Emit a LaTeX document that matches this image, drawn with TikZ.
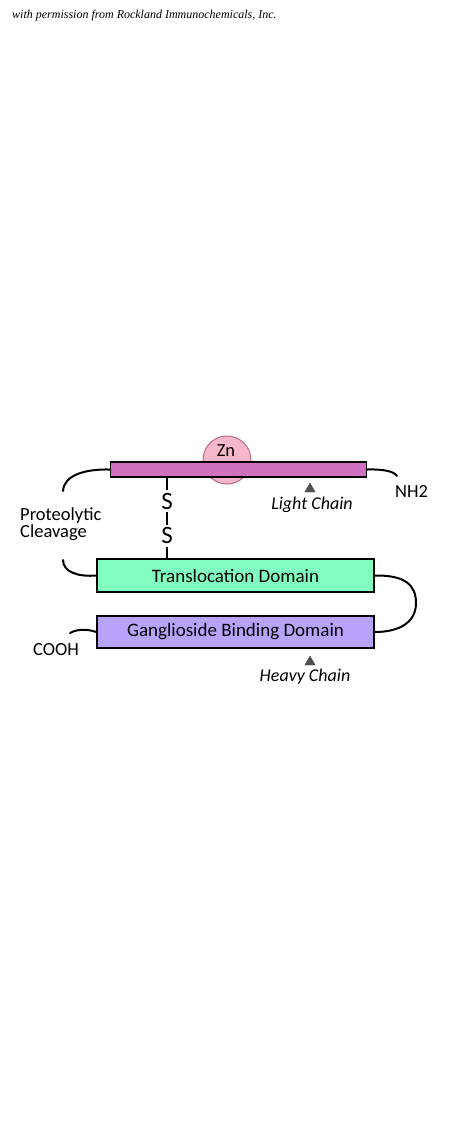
\documentclass[tikz,border=0pt]{standalone}
\usepackage{fontspec}
\usetikzlibrary{shapes.geometric}
\setmainfont{Carlito}
\newfontfamily\credfont{Liberation Serif}
\definecolor{lightbar}{HTML}{D070C0}
\definecolor{znfill}{HTML}{F5B7C9}
\definecolor{znline}{HTML}{B86C80}
\definecolor{transfill}{HTML}{80FFC0}
\definecolor{gangfill}{HTML}{B9A2FA}
\definecolor{tri}{HTML}{505050}
\tikzset{
  domainbox/.style={draw=black, line width=1.3pt, inner sep=0pt, font=\fontsize{19}{22}\selectfont},
  chainline/.style={line width=2pt, line cap=round},
  lbl/.style={inner sep=0pt, font=\fontsize{18.5}{17}\selectfont},
  chlbl/.style={inner sep=0pt, font=\fontsize{18}{21}\selectfont\itshape},
  sslbl/.style={inner sep=0pt, font=\fontsize{25}{27}\selectfont},
  marker/.style={fill=tri, draw=tri, line width=0.4pt},
  ssline/.style={line width=1.8pt},
}
\begin{document}
\begin{tikzpicture}[x=1pt,y=-1pt]
\useasboundingbox (0,0) rectangle (450,1125);
% credit
\node[anchor=west, inner sep=0pt, font=\credfont\fontsize{12}{14}\selectfont\itshape] (credit) at (12,16) {with permission from Rockland Immunochemicals, Inc.};
% Zn
\node[circle, draw=znline, fill=znfill, line width=1pt, minimum size=48pt, inner sep=0pt] (zn) at (227,460) {};
\node[inner sep=0pt, font=\fontsize{18.5}{20}\selectfont] (zntext) at (226,451) {Zn};
% light chain bar
\node[draw=black, line width=1.3pt, fill=lightbar, minimum width=256pt, minimum height=15pt, inner sep=0pt] (light) at (238.5,469.5) {};
% translocation
\node[domainbox, fill=transfill, minimum width=277pt, minimum height=33pt] (trans) at (235.5,575.5) {Translocation Domain};
\node[domainbox, fill=gangfill, minimum width=277pt, minimum height=32pt] (gang) at (235.5,632) {Ganglioside Binding Domain};
% curves
\coordinate (lcEnd) at (63,491);
\coordinate (pcStart) at (63,560);
\coordinate (nhEnd) at (397,476);
\coordinate (coEnd) at (70,633);
\draw[chainline] (light.west) .. controls (85,469) and (64,475) .. (lcEnd);
\draw[chainline] (light.east) .. controls (382,469) and (394,471) .. (nhEnd);
\draw[chainline] (pcStart) .. controls (63,572) and (78,577) .. (trans.west);
\draw[chainline] (trans.east) .. controls (405,575) and (416,585) .. (416,603) .. controls (416,622) and (400,632) .. (gang.east);
\draw[chainline] (gang.west) .. controls (85,628) and (75,630) .. (coEnd);
% S-S
\node[sslbl] (s1) at (167,501) {S};
\node[sslbl] (s2) at (167,535.5) {S};
\draw[ssline] (light.south -| s1) -- ([yshift=3pt]s1.north);
\draw[ssline] ([yshift=-3pt]s1.south) -- ([yshift=2pt]s2.north);
\draw[ssline] ([yshift=-3pt]s2.south) -- (trans.north -| s2);
% labels
\node[lbl, anchor=west, align=left] (prot) at (20,524.5) {Proteolytic\\Cleavage};
\node[lbl, anchor=west] (nh2) at (395,491) {NH2};
\node[lbl, anchor=west] (cooh) at (33,650) {COOH};
\node[marker, isosceles triangle, shape border rotate=90, isosceles triangle apex angle=60, minimum size=9pt, inner sep=0pt] (lt) at (310,489) {};
\node[chlbl] (lc) at (312,505) {Light Chain};
\node[marker, isosceles triangle, shape border rotate=90, isosceles triangle apex angle=60, minimum size=9pt, inner sep=0pt] (ht) at (310,662) {};
\node[chlbl] (hc) at (305,677) {Heavy Chain};
\end{tikzpicture}
\end{document}
